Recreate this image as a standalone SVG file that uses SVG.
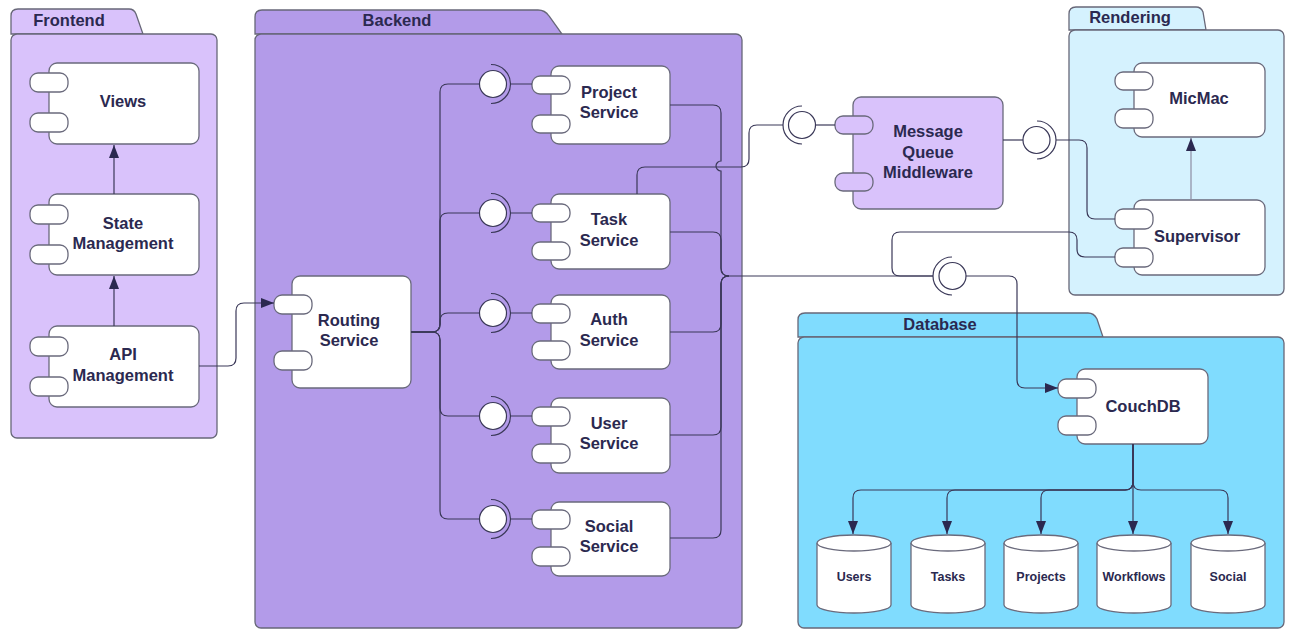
<svg xmlns="http://www.w3.org/2000/svg" width="1293" height="634" viewBox="0 0 1293 634">
<style>
.pkg{stroke:#676778;stroke-width:1.3}
.fe{fill:#d9c2fb}.be{fill:#b39be9}.re{fill:#d5f2fe}.db{fill:#80dcfe}
.box{fill:#fff;stroke:#6a6a7c;stroke-width:1.3}
.mq{fill:#d9c2fb;stroke:#6a6a7c;stroke-width:1.3}
.t{font-family:"Liberation Sans",Arial,sans-serif;font-weight:bold;font-size:16.5px;fill:#2b2950;text-anchor:middle}
.ts{font-family:"Liberation Sans",Arial,sans-serif;font-weight:bold;font-size:12.5px;fill:#2b2950;text-anchor:middle}
.ln{fill:none;stroke:#3a3858;stroke-width:1.2}
.ball{fill:#fff;stroke:#3a3858;stroke-width:1.2}
</style>
<defs>
<marker id="ah" markerUnits="userSpaceOnUse" markerWidth="14" markerHeight="10" refX="13" refY="5" orient="auto">
<path d="M0,0 L13,5 L0,10 z" fill="#2b2950"/>
</marker>
</defs>

<g id="frontend">
<path class="pkg fe" d="M11,34 V16 Q11,9 18,9 H129 Q134,9 136,14 L143,34 Z"/>
<rect class="pkg fe" x="11" y="34" width="206" height="404" rx="6"/>
<text class="t" x="69" y="26">Frontend</text>
</g>

<g id="backend">
<path class="pkg be" d="M255,34 V17 Q255,10 262,10 H538 Q545,10 549,16 L562,34 Z"/>
<rect class="pkg be" x="255" y="34" width="487" height="594" rx="6"/>
<text class="t" x="397" y="26">Backend</text>
</g>

<g id="rendering">
<path class="pkg re" d="M1069,30 V14 Q1069,7 1076,7 H1196 Q1201,7 1203,12 L1206,30 Z"/>
<rect class="pkg re" x="1069" y="30" width="215" height="265" rx="6"/>
<text class="t" x="1130" y="23">Rendering</text>
</g>

<g id="database">
<path class="pkg db" d="M798,337 V320 Q798,313 805,313 H1088 Q1094,313 1097,319 L1103,337 Z"/>
<rect class="pkg db" x="798" y="337" width="486" height="291" rx="6"/>
<text class="t" x="940" y="330">Database</text>
</g>

<g id="views">
<rect class="box" x="49" y="63" width="150" height="81" rx="8"/>
<rect class="box" x="30" y="73" width="38" height="19" rx="8"/>
<rect class="box" x="30" y="113" width="38" height="19" rx="8"/>
<text class="t" x="123" y="107">Views</text>
</g>

<g id="state-management">
<rect class="box" x="49" y="194" width="150" height="81" rx="8"/>
<rect class="box" x="30" y="205" width="38" height="19" rx="8"/>
<rect class="box" x="30" y="245" width="38" height="19" rx="8"/>
<text class="t" x="123" y="229">State</text>
<text class="t" x="123" y="249">Management</text>
</g>

<g id="api-management">
<rect class="box" x="49" y="326" width="150" height="81" rx="8"/>
<rect class="box" x="30" y="337" width="38" height="19" rx="8"/>
<rect class="box" x="30" y="377" width="38" height="19" rx="8"/>
<text class="t" x="123" y="360">API</text>
<text class="t" x="123" y="381">Management</text>
</g>

<g id="routing-service">
<rect class="box" x="292" y="276" width="119" height="112" rx="8"/>
<rect class="box" x="274" y="295" width="38" height="19" rx="8"/>
<rect class="box" x="274" y="351" width="38" height="19" rx="8"/>
<text class="t" x="349" y="326">Routing</text>
<text class="t" x="349" y="346">Service</text>
</g>

<g id="project-service">
<rect class="box" x="551" y="66" width="119" height="78" rx="8"/>
<rect class="box" x="532" y="76" width="38" height="18" rx="8"/>
<rect class="box" x="532" y="115" width="38" height="18" rx="8"/>
<text class="t" x="609" y="98">Project</text>
<text class="t" x="609" y="118">Service</text>
</g>

<g id="task-service">
<rect class="box" x="551" y="194" width="119" height="75" rx="8"/>
<rect class="box" x="532" y="204" width="38" height="18" rx="8"/>
<rect class="box" x="532" y="242" width="38" height="18" rx="8"/>
<text class="t" x="609" y="225">Task</text>
<text class="t" x="609" y="246">Service</text>
</g>

<g id="auth-service">
<rect class="box" x="551" y="295" width="119" height="74" rx="8"/>
<rect class="box" x="532" y="304" width="38" height="19" rx="8"/>
<rect class="box" x="532" y="341" width="38" height="19" rx="8"/>
<text class="t" x="609" y="325">Auth</text>
<text class="t" x="609" y="346">Service</text>
</g>

<g id="user-service">
<rect class="box" x="551" y="398" width="119" height="75" rx="8"/>
<rect class="box" x="532" y="407" width="38" height="19" rx="8"/>
<rect class="box" x="532" y="444" width="38" height="19" rx="8"/>
<text class="t" x="609" y="429">User</text>
<text class="t" x="609" y="449">Service</text>
</g>

<g id="social-service">
<rect class="box" x="551" y="502" width="119" height="74" rx="8"/>
<rect class="box" x="532" y="510" width="38" height="19" rx="8"/>
<rect class="box" x="532" y="547" width="38" height="19" rx="8"/>
<text class="t" x="609" y="532">Social</text>
<text class="t" x="609" y="552">Service</text>
</g>

<g id="message-queue">
<rect class="mq" x="853" y="97" width="150" height="112" rx="8"/>
<rect class="mq" x="835" y="116" width="38" height="18" rx="8"/>
<rect class="mq" x="835" y="173" width="38" height="18" rx="8"/>
<text class="t" x="928" y="137">Message</text>
<text class="t" x="928" y="158">Queue</text>
<text class="t" x="928" y="178">Middleware</text>
</g>

<g id="micmac">
<rect class="box" x="1134" y="63" width="131" height="74" rx="8"/>
<rect class="box" x="1115" y="72" width="38" height="18" rx="8"/>
<rect class="box" x="1115" y="109" width="38" height="19" rx="8"/>
<text class="t" x="1199" y="104">MicMac</text>
</g>

<g id="supervisor">
<rect class="box" x="1134" y="200" width="131" height="75" rx="8"/>
<rect class="box" x="1115" y="209" width="38" height="20" rx="8"/>
<rect class="box" x="1115" y="248" width="38" height="19" rx="8"/>
<text class="t" x="1197" y="242">Supervisor</text>
</g>

<g id="couchdb">
<rect class="box" x="1077" y="369" width="131" height="75" rx="8"/>
<rect class="box" x="1058" y="379" width="38" height="19" rx="8"/>
<rect class="box" x="1058" y="416" width="38" height="19" rx="8"/>
<text class="t" x="1143" y="412">CouchDB</text>
</g>

<g id="db-users">
<path class="box" d="M817,543 A37,8 0 0 1 891,543 V605 A37,8 0 0 1 817,605 Z"/>
<path class="box" fill="none" d="M817,543 A37,8 0 0 0 891,543"/>
<text class="ts" x="854" y="581">Users</text>
</g>
<g id="db-tasks">
<path class="box" d="M911,543 A37,8 0 0 1 985,543 V605 A37,8 0 0 1 911,605 Z"/>
<path class="box" fill="none" d="M911,543 A37,8 0 0 0 985,543"/>
<text class="ts" x="948" y="581">Tasks</text>
</g>
<g id="db-projects">
<path class="box" d="M1004,543 A37,8 0 0 1 1078,543 V605 A37,8 0 0 1 1004,605 Z"/>
<path class="box" fill="none" d="M1004,543 A37,8 0 0 0 1078,543"/>
<text class="ts" x="1041" y="581">Projects</text>
</g>
<g id="db-workflows">
<path class="box" d="M1097,543 A37,8 0 0 1 1171,543 V605 A37,8 0 0 1 1097,605 Z"/>
<path class="box" fill="none" d="M1097,543 A37,8 0 0 0 1171,543"/>
<text class="ts" x="1134" y="581">Workflows</text>
</g>
<g id="db-social">
<path class="box" d="M1191,543 A37,8 0 0 1 1265,543 V605 A37,8 0 0 1 1191,605 Z"/>
<path class="box" fill="none" d="M1191,543 A37,8 0 0 0 1265,543"/>
<text class="ts" x="1228" y="581">Social</text>
</g>

<g id="connectors">
<!-- frontend -->
<path class="ln" d="M114,194 V145" marker-end="url(#ah)"/>
<path class="ln" d="M114,326 V276" marker-end="url(#ah)"/>
<path class="ln" d="M199,366 H228 Q236,366 236,358 V311 Q236,303 244,303 H274" marker-end="url(#ah)"/>
<!-- routing to sockets -->
<path class="ln" d="M411,332 H432 Q440,332 440,324 V92 Q440,84 448,84 H479"/>
<path class="ln" d="M411,332 H432 Q440,332 440,324 V221 Q440,213 448,213 H479"/>
<path class="ln" d="M411,332 H432 Q440,332 440,324 V321 Q440,313 448,313 H479"/>
<path class="ln" d="M411,332 H432 Q440,332 440,340 V408 Q440,416 448,416 H479"/>
<path class="ln" d="M411,332 H432 Q440,332 440,340 V511 Q440,519 448,519 H479"/>
<!-- service sockets -->
<g>
<circle class="ball" cx="493" cy="84" r="13.5"/><path class="ln" d="M491,64.5 A19.5,19.5 0 0 1 491,103.5 M510,84 H532"/>
<circle class="ball" cx="493" cy="213" r="13.5"/><path class="ln" d="M491,193.5 A19.5,19.5 0 0 1 491,232.5 M510,213 H532"/>
<circle class="ball" cx="493" cy="313" r="13.5"/><path class="ln" d="M491,293.5 A19.5,19.5 0 0 1 491,332.5 M510,313 H532"/>
<circle class="ball" cx="493" cy="416" r="13.5"/><path class="ln" d="M491,396.5 A19.5,19.5 0 0 1 491,435.5 M510,416 H532"/>
<circle class="ball" cx="493" cy="519" r="13.5"/><path class="ln" d="M491,499.5 A19.5,19.5 0 0 1 491,538.5 M510,519 H532"/>
</g>
<!-- services to DB bus -->
<path class="ln" d="M670,105 H713 Q721,105 721,113 V161 A5,5 0 0 0 721,171 V268 Q721,276 729,276 H933"/>
<path class="ln" d="M670,232 H713 Q721,232 721,240 V268 Q721,276 729,276"/>
<path class="ln" d="M670,332 H713 Q721,332 721,324 V284 Q721,276 729,276"/>
<path class="ln" d="M670,435 H713 Q721,435 721,427 V284 Q721,276 729,276"/>
<path class="ln" d="M670,538 H713 Q721,538 721,530 V284 Q721,276 729,276"/>
<!-- supervisor to DB socket -->
<path class="ln" d="M1115,257 H1085 Q1077,257 1077,249 V240 Q1077,232 1069,232 H900 Q892,232 892,240 V268 Q892,276 900,276 H933"/>
<!-- DB interface -->
<path class="ln" d="M952,257 A19,19 0 0 0 952,295"/>
<circle class="ball" cx="952.5" cy="276" r="13.5"/>
<path class="ln" d="M966,276 H1009 Q1017,276 1017,284 V380 Q1017,388 1025,388 H1058" marker-end="url(#ah)"/>
<!-- task to MQ -->
<path class="ln" d="M637,194 V175 Q637,167 645,167 H741 Q749,167 749,159 V133 Q749,125 757,125 H783"/>
<path class="ln" d="M802,106 A19,19 0 0 0 802,144"/>
<circle class="ball" cx="802" cy="125" r="13.5"/>
<path class="ln" d="M816,125 H835"/>
<!-- MQ to supervisor -->
<path class="ln" d="M1003,140 H1023"/>
<circle class="ball" cx="1036.5" cy="140" r="13.5"/>
<path class="ln" d="M1037,121 A19,19 0 0 1 1037,159 M1056,140 H1079 Q1087,140 1087,148 V211 Q1087,219 1095,219 H1115"/>
<!-- supervisor to micmac -->
<path class="ln" style="stroke:#8d8ca2" d="M1191,200 V138" marker-end="url(#ah)"/>
<!-- couchdb to collections -->
<path class="ln" d="M1133,444 V482 Q1133,490 1125,490 H861 Q853,490 853,498 V534" marker-end="url(#ah)"/>
<path class="ln" d="M1133,444 V482 Q1133,490 1125,490 H955 Q947,490 947,498 V534" marker-end="url(#ah)"/>
<path class="ln" d="M1133,444 V482 Q1133,490 1125,490 H1049 Q1041,490 1041,498 V534" marker-end="url(#ah)"/>
<path class="ln" d="M1133,444 V534" marker-end="url(#ah)"/>
<path class="ln" d="M1133,444 V482 Q1133,490 1141,490 H1220 Q1228,490 1228,498 V534" marker-end="url(#ah)"/>
</g>
</svg>
